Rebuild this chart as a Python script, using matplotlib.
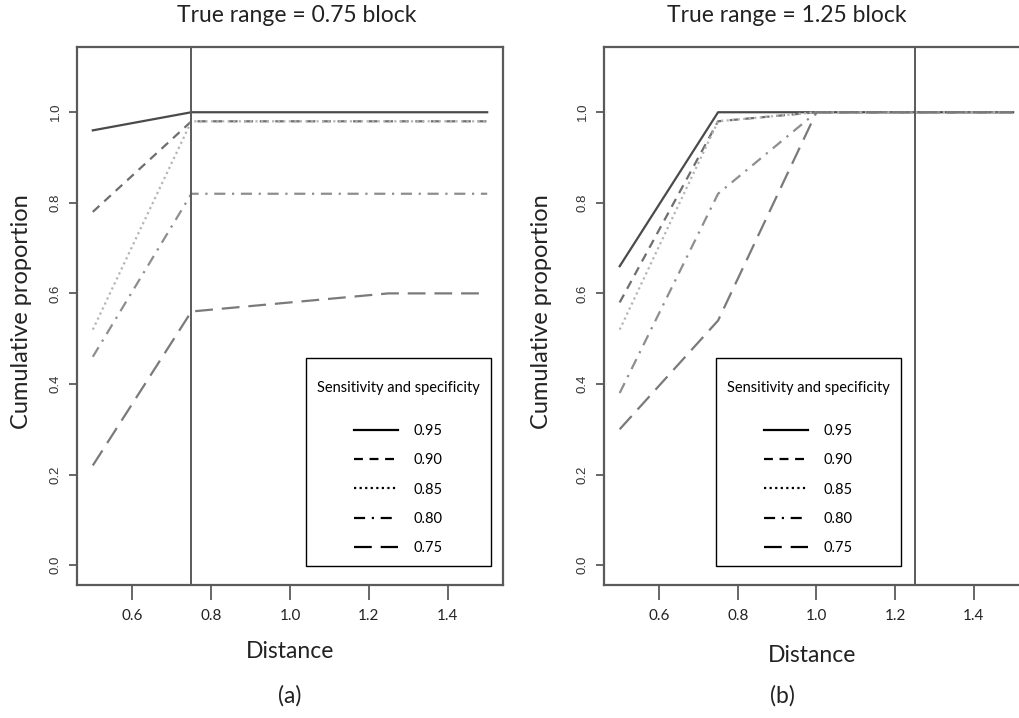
import matplotlib.pyplot as plt
from matplotlib.lines import Line2D

# data
distance = [0.5, 0.75, 1.0, 1.25, 1.5]
levels = ['0.95', '0.90', '0.85', '0.80', '0.75']

# (a) true range = 0.75 block
left_vals = {
    '0.95': [0.96, 1.00, 1.00, 1.00, 1.00],
    '0.90': [0.78, 0.98, 0.98, 0.98, 0.98],
    '0.85': [0.52, 0.98, 0.98, 0.98, 0.98],
    '0.80': [0.46, 0.82, 0.82, 0.82, 0.82],
    '0.75': [0.22, 0.56, 0.58, 0.60, 0.60],
}
# (b) true range = 1.25 block
right_vals = {
    '0.95': [0.66, 1.00, 1.00, 1.00, 1.00],
    '0.90': [0.58, 0.98, 1.00, 1.00, 1.00],
    '0.85': [0.52, 0.98, 1.00, 1.00, 1.00],
    '0.80': [0.38, 0.82, 1.00, 1.00, 1.00],
    '0.75': [0.30, 0.54, 1.00, 1.00, 1.00],
}
true_range = [0.75, 1.25]
titles = ['True range = 0.75 block', 'True range = 1.25 block']
panel_tags = ['(a)', '(b)']
xticks = [0.6, 0.8, 1.0, 1.2, 1.4]
yticks = [0.0, 0.2, 0.4, 0.6, 0.8, 1.0]

# R line types
styles = {
    '0.95': '-',
    '0.90': (0, (4, 3)),
    '0.85': (0, (1, 1.5)),
    '0.80': (0, (5, 3, 1, 3)),
    '0.75': (0, (8, 4)),
}
colors = {'0.95': '#4a4a4a', '0.90': '#6e6e6e', '0.85': '#b5b5b5',
          '0.80': '#8e8e8e', '0.75': '#7a7a7a'}

sans = 'Lato'
fig = plt.figure(figsize=(10.19, 7.18), dpi=100)
axes = [fig.add_axes([0.0756, 0.1852, 0.418, 0.7493]),
        fig.add_axes([0.5927, 0.1852, 0.417, 0.7493])]
legend_x = [0.5376, 0.2635]

for ax, vals, tr, lx in zip(axes, [left_vals, right_vals], true_range, legend_x):
    for lv in levels:
        ax.plot(distance, vals[lv], linestyle=styles[lv], color=colors[lv], lw=1.6)
    ax.axvline(tr, color='#5a5a5a', lw=1.4)
    ax.set_xlim(0.46, 1.54)
    ax.set_ylim(-0.044, 1.144)
    ax.set_xticks(xticks)
    ax.set_xticklabels([f'{v:.1f}' for v in xticks], family=sans, fontsize=11, color='#222222')
    ax.set_yticks(yticks)
    ax.set_yticklabels([f'{v:.1f}' for v in yticks], family='Liberation Sans', fontsize=9.5,
                       rotation=90, va='center', color='#333333')
    ax.tick_params(axis='x', length=11, width=1.4, color='#666666', pad=6)
    ax.tick_params(axis='y', length=6, width=1.4, color='#666666', pad=5)
    for sp in ax.spines.values():
        sp.set_color('#5a5a5a')
        sp.set_linewidth(1.6)

    handles = [Line2D([], [], linestyle=styles[lv], color='black', lw=1.6) for lv in levels]
    leg = ax.legend(handles, levels, title='\nSensitivity and specificity',
                    loc='upper left', bbox_to_anchor=(lx, 0.4219),
                    prop={'family': sans, 'size': 10.5},
                    title_fontproperties={'family': sans, 'size': 10.5},
                    alignment='center', frameon=True, fancybox=False,
                    edgecolor='black', framealpha=1, borderpad=0.75,
                    handlelength=3.0, handletextpad=1.1, labelspacing=1.05,
                    borderaxespad=0)
    leg.get_title().set_linespacing(0.8)
    leg.get_frame().set_linewidth(1.0)
    leg._legend_box.sep = 21

fig.text(0.2915, 0.978, titles[0], family=sans, fontsize=16.5, ha='center', va='center', color='#222222')
fig.text(0.7725, 0.978, titles[1], family=sans, fontsize=16.5, ha='center', va='center', color='#222222')
fig.text(0.2846, 1 - 651 / 718, 'Distance', family=sans, fontsize=16.5, ha='center', va='center', color='#222222')
fig.text(0.7968, 1 - 655 / 718, 'Distance', family=sans, fontsize=16.5, ha='center', va='center', color='#222222')
fig.text(0.2846, 1 - 696 / 718, panel_tags[0], family=sans, fontsize=16.5, ha='center', va='center', color='#222222')
fig.text(0.7674, 1 - 696 / 718, panel_tags[1], family=sans, fontsize=16.5, ha='center', va='center', color='#222222')
fig.text(22 / 1019, 1 - 312 / 718, 'Cumulative proportion', family=sans, fontsize=17,
         rotation=90, ha='center', va='center', color='#222222')
fig.text(542 / 1019, 1 - 312 / 718, 'Cumulative proportion', family=sans, fontsize=17,
         rotation=90, ha='center', va='center', color='#222222')

fig.savefig('out.png', dpi=100)
